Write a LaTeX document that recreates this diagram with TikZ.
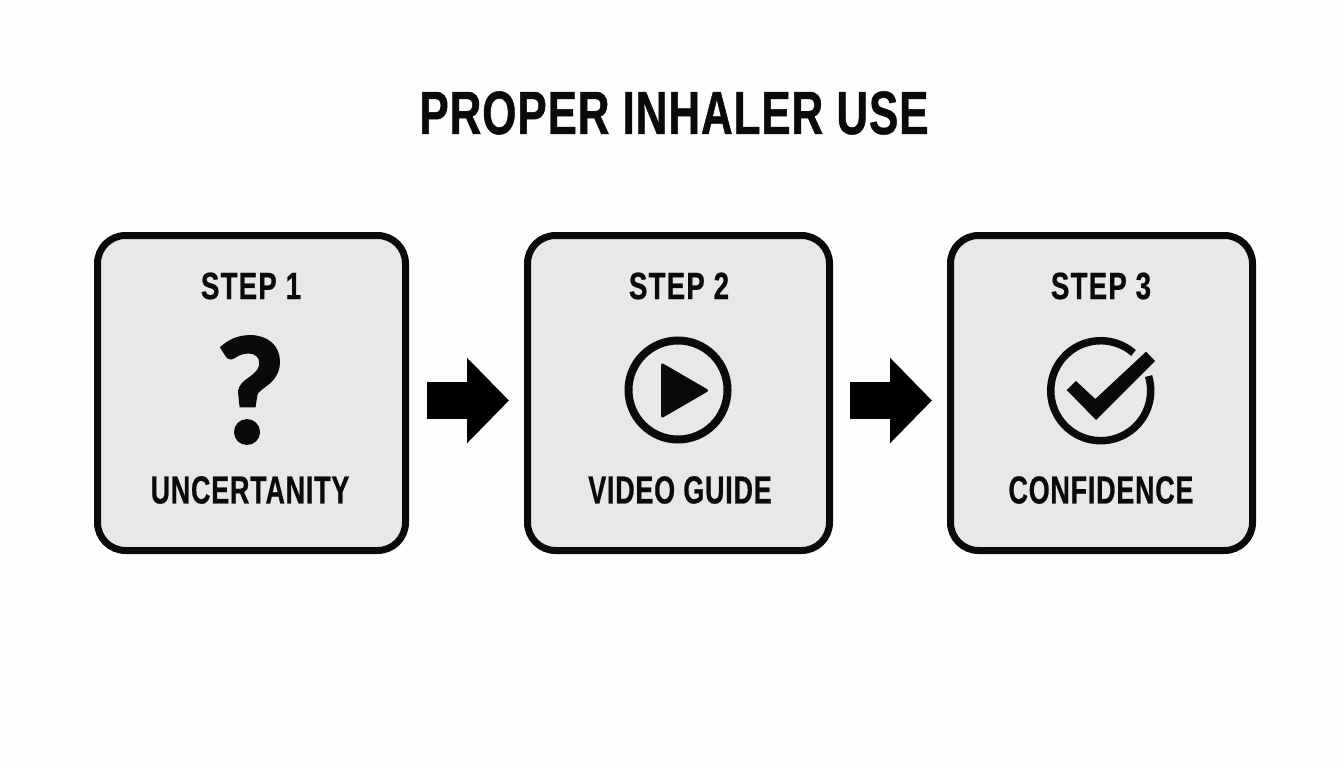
\documentclass[tikz,border=0pt]{standalone}
\usepackage{fontspec}
\setmainfont{Liberation Sans}
\newfontfamily\narrowfont[FakeStretch=0.69,FakeBold=0.6,LetterSpace=2]{Liberation Sans Bold}
\newfontfamily\stepfont[FakeStretch=0.73,FakeBold=0.6,LetterSpace=3]{Liberation Sans Bold}
\newfontfamily\titlefont[FakeStretch=0.72,FakeBold=0.8,LetterSpace=1.5]{Liberation Sans Bold}
\newfontfamily\qfont[FakeBold=3,FakeStretch=1.0]{Lato Bold}
\usetikzlibrary{arrows.meta}
\definecolor{boxgray}{HTML}{E8E8E8}
\definecolor{pagewhite}{HTML}{FDFDFD}
\definecolor{ink}{HTML}{0A0A0A}
\tikzset{
  stepbox/.style={draw=ink,fill=boxgray,line width=7pt,rounded corners=28pt,minimum height=315pt,inner sep=0pt},
  steptitle/.style={text=ink,inner sep=0pt,font=\stepfont\fontsize{38}{40}\selectfont},
  steplabel/.style={text=ink,inner sep=0pt,font=\narrowfont\fontsize{39}{40}\selectfont},
  blockarrow/.style={draw=black,line width=37pt,-{Triangle[length=42pt,width=83pt,fill=black]}},
  iconring/.style={circle,draw=ink,line width=8pt,minimum size=99pt,inner sep=0pt}
}
\begin{document}
\begin{tikzpicture}[x=1pt,y=-1pt]
\useasboundingbox (0,0) rectangle (1344,768);
\fill[pagewhite] (0,0) rectangle (1344,768);
\node[text=ink,inner sep=0pt,font=\titlefont\fontsize{61}{64}\selectfont] (title) at (674,113) {PROPER INHALER USE};

\node[stepbox,minimum width=308pt] (s1) at (251.5,393) {};
\node[stepbox,minimum width=302pt] (s2) at (678.5,393) {};
\node[stepbox,minimum width=302pt] (s3) at (1101.5,393) {};

\node[steptitle] (t1) at (251,286) {STEP 1};
\node[steptitle] (t2) at (679,286) {STEP 2};
\node[steptitle] (t3) at (1101,286) {STEP 3};

\node[steplabel] (l1) at (250,490) {UNCERTANITY};
\node[steplabel] (l2) at (680,490) {VIDEO GUIDE};
\node[steplabel] (l3) at (1101,490) {CONFIDENCE};

% question mark
\node[text=ink,inner sep=0pt,font=\qfont\fontsize{143}{150}\selectfont] (q) at (250.5,390) {?};

% play icon
\node[iconring] (play) at (678,390) {};
\fill[ink,draw=ink,line width=3pt,line join=round] (662.5,365) -- (662.5,416) -- (706.5,390.5) -- cycle;

% check icon
\coordinate (chk) at (1100.7,390.7);
\draw[ink,line width=7.5pt] (chk) ++(-49:50) arc[start angle=-49,end angle=-377,radius=50];
\fill[ink] (1066.7,390) -- (1076,381) -- (1095.3,399) -- (1146,351.7) -- (1155,361) -- (1096,420) -- cycle;

% arrows
\draw[blockarrow,shorten <=18pt,shorten >=15pt] ([yshift=-7.5pt]s1.east) -- ([yshift=-7.5pt]s2.west);
\draw[blockarrow,shorten <=17pt,shorten >=15pt] ([yshift=-7.5pt]s2.east) -- ([yshift=-7.5pt]s3.west);
\end{tikzpicture}
\end{document}
